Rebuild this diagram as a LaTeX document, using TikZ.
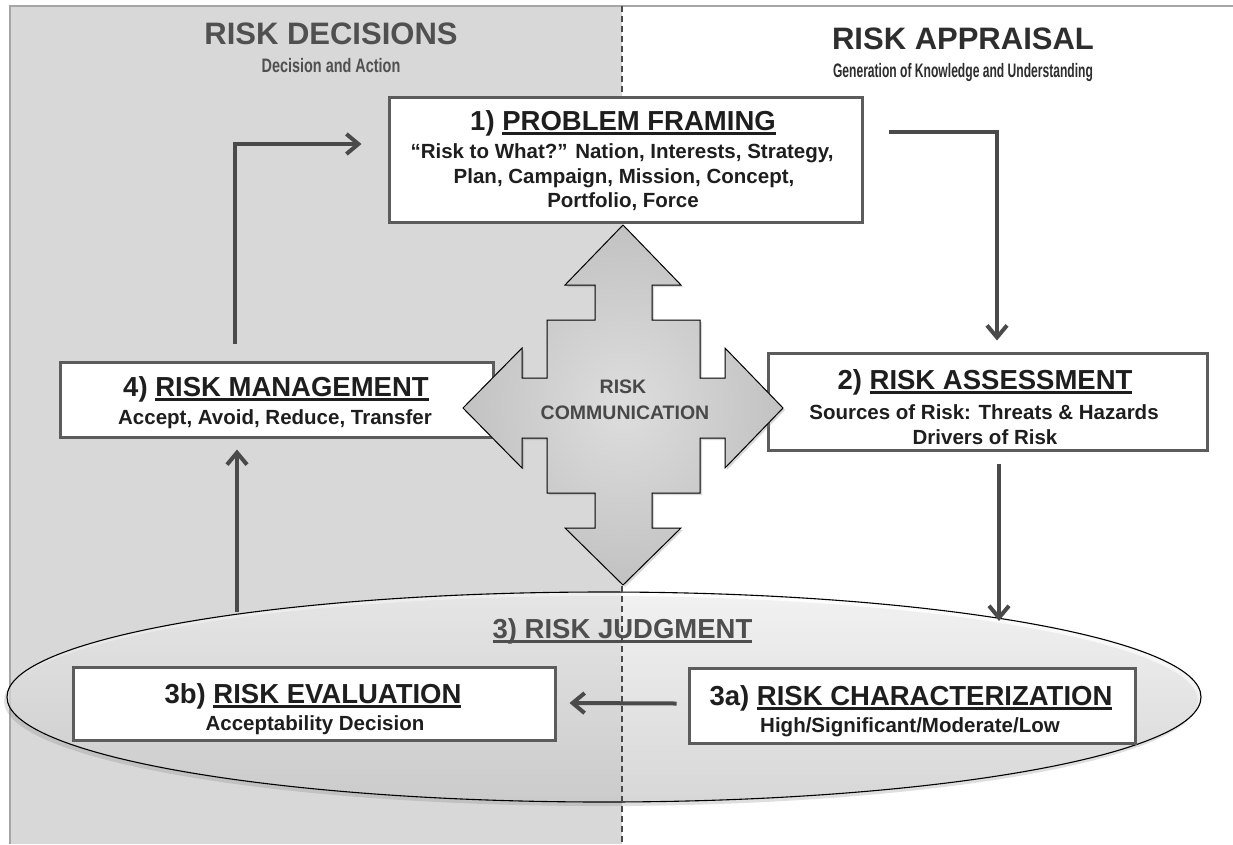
\documentclass[tikz,border=0pt]{standalone}
\usepackage{fontspec}
\setmainfont{Liberation Sans}
\newfontfamily\subfontA[FakeStretch=0.74]{Liberation Sans}
\newfontfamily\subfontB[FakeStretch=0.62]{Liberation Sans}
\usetikzlibrary{arrows.meta,shadows,shapes.geometric}

\definecolor{panelgray}{HTML}{D8D8D8}
\definecolor{linegray}{HTML}{4A4A4A}
\definecolor{boxgray}{HTML}{5C5C5C}
\definecolor{txtdark}{HTML}{1E1E1E}
\definecolor{headleft}{HTML}{505050}
\definecolor{headright}{HTML}{2E2E2E}
\definecolor{judggray}{HTML}{4E4E4E}
\definecolor{commtext}{HTML}{484848}

% underlined word with a rule scaled to the current font
\newsavebox{\ulbox}
\newcommand{\ulw}[1]{\sbox{\ulbox}{#1}\rlap{\rule[-0.17em]{\wd\ulbox}{0.08em}}\usebox{\ulbox}}

\newcommand{\ftitle}{\bfseries\fontsize{27.5}{30}\selectfont}
\newcommand{\fbody}{\bfseries\fontsize{20.5}{24}\selectfont}
\newcommand{\fhead}{\bfseries\fontsize{31}{34}\selectfont}
\newcommand{\fsubA}{\subfontA\bfseries\fontsize{19.5}{22}\selectfont}
\newcommand{\fsubB}{\subfontB\bfseries\fontsize{19.5}{22}\selectfont}
\newcommand{\fcomm}{\bfseries\fontsize{19.5}{22}\selectfont}

\begin{document}
\begin{tikzpicture}[x=1pt,y=-1pt,
  conn/.style={draw=linegray, line width=4pt, -{Straight Barb[length=12pt,width=20pt]}},
  stepbox/.style={rectangle, draw=boxgray, line width=3pt, fill=white, inner sep=0pt,
    drop shadow={shadow xshift=2pt, shadow yshift=-2pt, opacity=0.25}},
  lbl/.style={anchor=base, text=txtdark, inner sep=0pt}]

\useasboundingbox (0,0) rectangle (1233,844);
\fill[white] (0,0) rectangle (1233,844);

% two halves of the sheet
\fill[panelgray] (10,6) rectangle (622,844);
\draw[gray!70, line width=1.2pt] (10,844) -- (10,6) -- (1233,6);

% headings
\node[lbl, text=headleft, font=\fhead] at (331,44) {RISK DECISIONS};
\node[lbl, text=headleft, font=\fsubA] at (331,72) {Decision and Action};
\node[lbl, text=headright, font=\fhead] at (963,49) {RISK APPRAISAL};
\node[lbl, text=headright, font=\fsubB] at (963,77) {Generation of Knowledge and Understanding};

% judgment ellipse
\node[ellipse, minimum width=1194pt, minimum height=210pt, inner sep=0pt,
  draw=black, line width=1.1pt, top color=white, bottom color=gray!35, fill opacity=0.6,
  drop shadow={shadow xshift=-3pt, shadow yshift=-4pt, opacity=0.25}] (jd) at (604,697) {};
\node[lbl, text=judggray, font=\ftitle] at (622.5,638) {\ulw{3) RISK JUDGMENT}};

% dashed divider
\draw[linegray, line width=1.3pt, dash pattern=on 6pt off 4pt] (622,6) -- (622,844);

% process boxes
\node[stepbox, minimum width=473pt, minimum height=125pt] (b1) at (625.5,159.5) {};
\node[stepbox, minimum width=439pt, minimum height=97pt] (b2) at (987.5,401.5) {};
\node[stepbox, minimum width=433pt, minimum height=75pt] (b4) at (276.5,399.5) {};
\node[stepbox, minimum width=482pt, minimum height=73pt] (b3b) at (314,703.5) {};
\node[stepbox, minimum width=446pt, minimum height=75pt] (b3a) at (912,705.5) {};

% box texts
\node[lbl, font=\ftitle] at (623,130) {1)~\ulw{PROBLEM FRAMING}};
\node[lbl, font=\fbody] at (622,158) {“Risk to What?” Nation, Interests, Strategy,};
\node[lbl, font=\fbody] at (624,183) {Plan, Campaign, Mission, Concept,};
\node[lbl, font=\fbody] at (623,207) {Portfolio, Force};

\node[lbl, font=\ftitle] at (985,389) {2)~\ulw{RISK ASSESSMENT}};
\node[lbl, font=\fbody] at (984,419) {Sources of Risk: Threats \& Hazards};
\node[lbl, font=\fbody] at (985,444) {Drivers of Risk};

\node[lbl, font=\ftitle] at (276,396) {4)~\ulw{RISK MANAGEMENT}};
\node[lbl, font=\fbody] at (275,424) {Accept, Avoid, Reduce, Transfer};

\node[lbl, font=\ftitle] at (313,703) {3b)~\ulw{RISK EVALUATION}};
\node[lbl, font=\fbody] at (315,730) {Acceptability Decision};

\node[lbl, font=\ftitle] at (911,705) {3a)~\ulw{RISK CHARACTERIZATION}};
\node[lbl, font=\fbody] at (910,732) {High/Significant/Moderate/Low};

% connectors of the cycle
\draw[conn] ([xshift=-41.5pt,yshift=17pt]b4.north) |- ([xshift=-26pt,yshift=15.5pt]b1.west);
\draw[conn] ([xshift=25pt,yshift=27.5pt]b1.east) -| ([xshift=9.5pt,yshift=11pt]b2.north);
\draw[conn, shorten >=10pt] ([xshift=11.5pt,yshift=-12pt]b2.south) -- ([xshift=11.5pt,yshift=-12pt]b2.south |- jd.11.3);
\draw[conn, shorten <=12pt] ([xshift=-39.5pt,yshift=-11pt]b4.south |- jd.167.3) -- ([xshift=-39.5pt,yshift=-11pt]b4.south);
\draw[conn] ([xshift=-11pt,yshift=2pt]b3a.west) -- ([xshift=13pt,yshift=0.5pt]b3b.east);

% four-headed communication arrow
\path[draw=black, line width=1pt, shading=radial, inner color=gray!26, outer color=gray!48,
  drop shadow={shadow xshift=2pt, shadow yshift=-2pt, opacity=0.3}]
  (623,225) -- (681,285) -- (652,285) -- (652,320) -- (700,320) -- (700,378)
  -- (725,378) -- (725,348) -- (783,408) -- (725,468) -- (725,438) -- (700,438)
  -- (700,493) -- (652,493) -- (652,528) -- (681,528) -- (623,585) -- (565,528)
  -- (595,528) -- (595,493) -- (547,493) -- (547,438) -- (522,438) -- (522,468)
  -- (463,408) -- (522,348) -- (522,378) -- (547,378) -- (547,320) -- (595,320)
  -- (595,285) -- (565,285) -- cycle;
\node[lbl, text=commtext, font=\fcomm] (comm) at (623,393) {RISK};
\node[lbl, text=commtext, font=\fcomm] at (625,419) {COMMUNICATION};

\end{tikzpicture}
\end{document}
